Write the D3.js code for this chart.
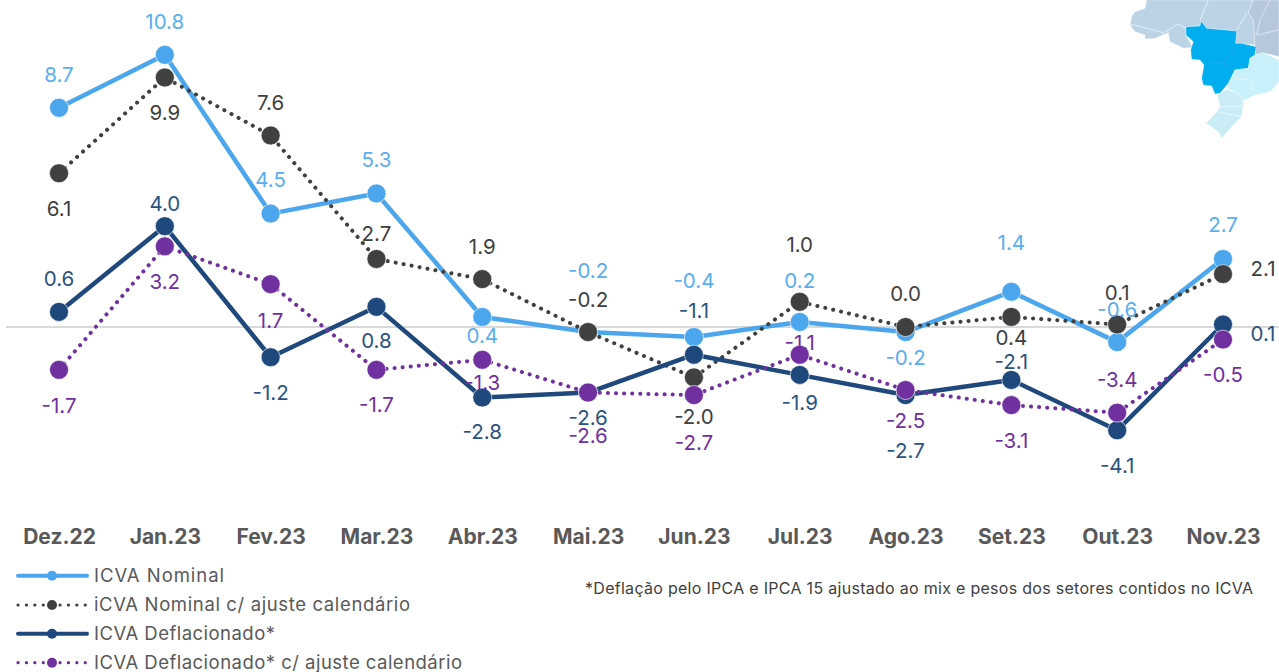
<!DOCTYPE html>
<html><head><meta charset="utf-8">
<script src="https://cdn.jsdelivr.net/npm/d3@7"></script>
<style>html,body{margin:0;padding:0;background:#fff;overflow:hidden}svg{display:block}text{font-family:Inter,"Open Sans",sans-serif}</style>
</head><body><svg id="c" width="1279" height="672"></svg>
<script>
const categories=["Dez.22","Jan.23","Fev.23","Mar.23","Abr.23","Mai.23","Jun.23","Jul.23","Ago.23","Set.23","Out.23","Nov.23"];
const nominal=[8.7,10.8,4.5,5.3,0.4,-0.2,-0.4,0.2,-0.2,1.4,-0.6,2.7];
const nominalAdj=[6.1,9.9,7.6,2.7,1.9,-0.2,-2.0,1.0,0.0,0.4,0.1,2.1];
const deflated=[0.6,4.0,-1.2,0.8,-2.8,-2.6,-1.1,-1.9,-2.7,-2.1,-4.1,0.1];
const deflatedAdj=[-1.7,3.2,1.7,-1.7,-1.3,-2.6,-2.7,-1.1,-2.5,-3.1,-3.4,-0.5];
const seriesNames=["ICVA Nominal","iCVA Nominal c/ ajuste calendário","ICVA Deflacionado*","ICVA Deflacionado* c/ ajuste calendário"];
const footnote="*Deflação pelo IPCA e IPCA 15 ajustado ao mix e pesos dos setores contidos no ICVA";

// label placement (offset from the marker centre), separate from the data
const offNominal=[-33,-33,-34,-34,19,-62,-57,-41,25,-49,-33,-34];
const offNominalAdj=[35,35,-33,-25,-33,-33,39,-57,-34,21,-32,-6];
const offDeflated=[-33,-23,35,34,34,25,-44,28,55,-18,35,9.5];
const offDeflatedAdj=[36,35,36,35,23,43,47,-12,30,35,-33,35];

const svg=d3.select("#c");
const x=d3.scalePoint().domain(categories).range([59,1223]);
const y=d3.scaleLinear().domain([-5,11]).range([327+5*25.2,327-11*25.2]);

// map decoration
svg.append("defs").append("filter").attr("id","soft").append("feGaussianBlur").attr("stdDeviation",1.2);
const mapG=svg.append("g").attr("transform","translate(1100,0) scale(0.3333)").attr("filter","url(#soft)");
const regions=[
 ["#bcd3e6",[[140,0],[135,25],[105,35],[95,50],[90,75],[105,95],[135,105],[135,117],[165,115],[205,98],[210,125],[250,145],[278,142],[258,105],[258,80],[300,78],[303,62],[320,85],[408,93],[407,130],[465,135],[460,60],[445,40],[460,0]]],
 ["#b6c8dc",[[460,0],[537,0],[537,170],[490,158],[468,165],[465,135],[460,60],[445,40]]],
 ["#00aeef",[[258,80],[300,78],[303,62],[320,85],[410,93],[407,130],[425,130],[468,140],[465,165],[450,175],[445,205],[405,210],[385,250],[360,280],[345,282],[335,258],[310,255],[305,235],[312,195],[300,180],[275,178],[272,150],[280,125],[258,105]]],
 ["#c8f1fc",[[465,165],[490,158],[537,180],[537,245],[510,275],[465,285],[430,302],[415,280],[380,265],[405,210],[445,205],[450,175]]],
 ["#c9ecf6",[[380,268],[415,280],[430,302],[425,350],[400,375],[365,415],[355,395],[318,370],[350,335],[360,320],[352,285]]]
];
const borders=[
 ["#e4eef6",[[325,0],[300,60]]],["#e4eef6",[[440,40],[410,90]]],["#e4eef6",[[90,72],[190,98],[235,72],[258,85]]],
 ["#dbe5ef",[[510,0],[480,60],[470,105],[537,90]]],
 ["#2aa6de",[[330,190],[370,190],[405,140]]],["#2aa6de",[[370,190],[400,215]]],
 ["#e6f8fd",[[405,235],[455,240],[460,270]]],
 ["#e6f8fd",[[360,320],[425,320]]],["#e6f8fd",[[350,335],[425,350]]]
];
const poly=d3.line().curve(d3.curveLinearClosed);
const open=d3.line();
mapG.selectAll("path.r").data(regions).join("path").attr("class","r").attr("d",d=>poly(d[1])).attr("fill",d=>d[0]).attr("stroke","#fff").attr("stroke-width",1);
mapG.selectAll("path.b").data(borders).join("path").attr("class","b").attr("d",d=>open(d[1])).attr("fill","none").attr("stroke",d=>d[0]).attr("stroke-width",3);

// zero line
svg.append("line").attr("x1",6).attr("x2",1279).attr("y1",y(0)).attr("y2",y(0)).attr("stroke","#d9d9d9").attr("stroke-width",2);

const series=[
 {v:nominal,off:offNominal,c:"#4ba6ee",lc:"#57aef0",dotted:false},
 {v:nominalAdj,off:offNominalAdj,c:"#404040",lc:"#404040",dotted:true},
 {v:deflated,off:offDeflated,c:"#1f497d",lc:"#2a5282",dotted:false},
 {v:deflatedAdj,off:offDeflatedAdj,c:"#7030a0",lc:"#7030a0",dotted:true}
];
const line=d3.line().x((d,i)=>x(categories[i])).y(d=>y(d));
series.forEach(s=>{
 svg.append("path").attr("d",line(s.v)).attr("fill","none").attr("stroke",s.c)
  .attr("stroke-width",s.dotted?4:4.5).attr("stroke-linecap","round").attr("stroke-linejoin","round")
  .attr("stroke-dasharray",s.dotted?"0.1 8":null);
 svg.append("g").selectAll("circle").data(s.v).join("circle")
  .attr("cx",(d,i)=>x(categories[i])).attr("cy",d=>y(d)).attr("r",9.5)
  .attr("fill",s.c).attr("stroke","#fff").attr("stroke-opacity",0.6).attr("stroke-width",1);
});
// data labels
const labelX=(s,i)=>x(categories[i])+((i===11&&(s.v===nominalAdj||s.v===deflated))?40:0);
series.forEach(s=>{
 svg.append("g").selectAll("text").data(s.v).join("text")
  .attr("x",(d,i)=>labelX(s,i)).attr("y",(d,i)=>y(d)+s.off[i])
  .attr("text-anchor","middle").attr("dominant-baseline","central")
  .attr("font-size",20.5).attr("fill",s.lc).text(d=>d.toFixed(1));
});
// category axis
const axis=d3.axisBottom(x).tickSize(0).tickPadding(0);
const ax=svg.append("g").attr("transform","translate(0,537)").call(axis);
ax.select(".domain").remove();
ax.selectAll("text").attr("y",0).attr("dy","0.35em").attr("font-size",21).attr("font-weight",700).attr("fill","#595959").style("font-family","Inter,sans-serif");

// legend
const legY=[575.7,605,633.7,662.7];
const legW=[130,316,181,368];
const leg=svg.append("g").selectAll("g").data(series).join("g").attr("transform",(d,i)=>`translate(0,${legY[i]})`);
leg.append("line").attr("x1",18).attr("x2",87).attr("stroke",d=>d.c).attr("stroke-width",d=>d.dotted?3.2:4).attr("stroke-linecap","round").attr("stroke-dasharray",d=>d.dotted?"0.1 8.3":null);
leg.append("circle").attr("cx",52).attr("r",5).attr("fill",d=>d.c);
leg.append("text").attr("x",94).attr("dy","0.35em").attr("font-size",18.5).attr("fill","#595959").attr("textLength",(d,i)=>legW[i]).attr("lengthAdjust","spacing").text((d,i)=>seriesNames[i]);

svg.append("text").attr("x",585).attr("y",588).attr("dominant-baseline","central").attr("font-size",16).attr("fill","#404040").attr("textLength",668).attr("lengthAdjust","spacing").text(footnote);
</script></body></html>
